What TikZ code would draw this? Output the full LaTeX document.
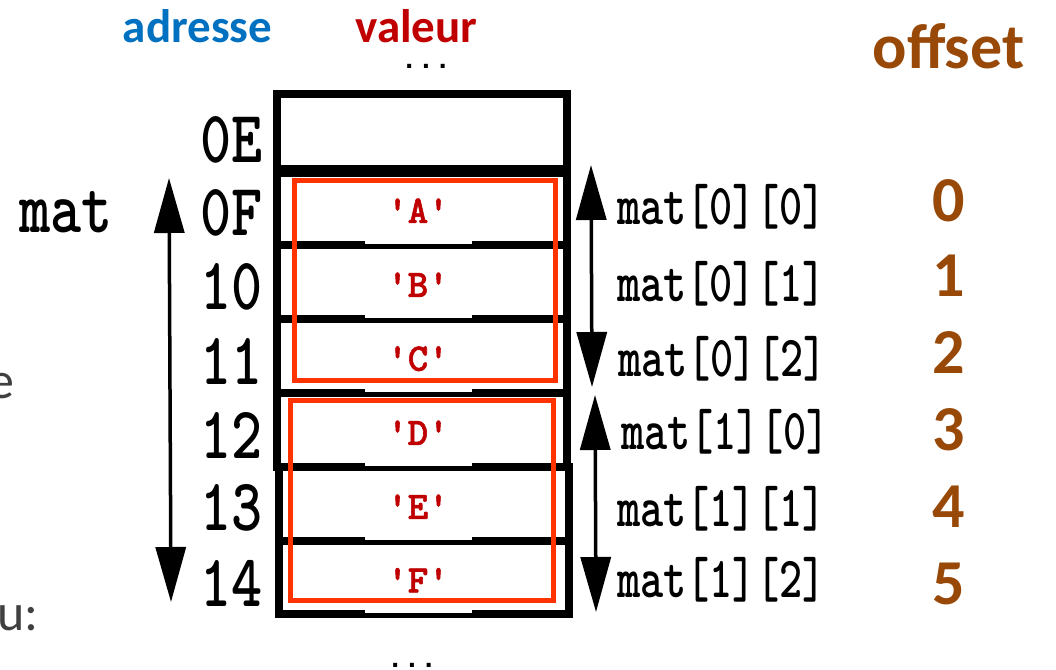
\documentclass[tikz,border=0pt]{standalone}
\usepackage{fontspec}
\usepackage{tikz}
\usetikzlibrary{arrows.meta}

\setmainfont{Carlito}
\newfontfamily\addrfont{lmmonolt10-bold}[Extension=.otf, FakeStretch=0.8, Ligatures=TeXOff]
\newfontfamily\matfont{lmmonolt10-bold}[Extension=.otf, FakeStretch=0.76, Ligatures=TeXOff]
\newfontfamily\valfont{lmmonolt10-bold}[Extension=.otf, FakeBold=1.5, Ligatures=TeXOff]
\newfontfamily\dotfont{Liberation Mono}

\definecolor{adrblue}{HTML}{0070C0}
\definecolor{valred}{HTML}{C00000}
\definecolor{boxred}{HTML}{FF3300}
\definecolor{offbrown}{HTML}{984807}

\begin{document}
\begin{tikzpicture}[x=1pt, y=-1pt,
	cell/.style={draw, line width=8pt, minimum width=289.5pt, inner sep=0pt, outer sep=0pt},
	val/.style={fill=white, text=valred, minimum width=107pt, minimum height=66pt, inner sep=0pt, anchor=south, font=\valfont\fontsize{39}{39}\selectfont},
	redbox/.style={draw=boxred, line width=5pt, inner sep=0pt},
	addr/.style={anchor=east, inner sep=0pt, font=\addrfont\fontsize{74}{74}\selectfont},
	elem/.style={anchor=west, inner sep=0pt, font=\matfont\fontsize{58}{58}\selectfont},
	off/.style={inner sep=0pt, text=offbrown, font=\bfseries\fontsize{64}{64}\selectfont},
	head/.style={anchor=base, inner sep=0pt, font=\bfseries\fontsize{47}{47}\selectfont},
	frag/.style={anchor=east, inner sep=0pt, text=black!75, font=\fontsize{52}{52}\selectfont},
	dots/.style={inner sep=0pt, font=\dotfont\bfseries\fontsize{28}{28}\selectfont},
	dblarrow/.style={line width=3.5pt, {Triangle[length=55pt,width=30pt]}-{Triangle[length=55pt,width=30pt]}}]
		\clip (0,0) rectangle (1056,669);
		\node[cell, minimum height=75pt] (c0E) at (421.75,131.5) {};
		\node[cell, minimum height=72pt] (c0F) at (421.75,209) {};
		\node[cell, minimum height=74pt] (c10) at (421.75,282) {};
		\node[cell, minimum height=74pt] (c11) at (421.75,356) {};
		\node[cell, minimum height=74pt] (c12) at (421.75,430) {};
		\node[cell, minimum height=74pt] (c13) at (424,504) {};
		\node[cell, minimum height=73pt] (c14) at (424,577.5) {};
		\node[val] (vA) at (418,244) {'A'};
		\node[val] (vB) at (418,318) {'B'};
		\node[val] (vC) at (418,392) {'C'};
		\node[val] (vD) at (418,466) {'D'};
		\node[val] (vE) at (418,540) {'E'};
		\node[val] (vF) at (418,613.5) {'F'};
		\node[redbox, minimum width=261pt, minimum height=199.5pt] (row0) at (425,280.25) {};
		\node[redbox, minimum width=263pt, minimum height=200pt] (row1) at (422,500.5) {};
		\node[addr] (a0E) at (263,140) {0E};
		\node[addr] (a0F) at (263,213) {0F};
		\node[addr] (a10) at (263,287) {10};
		\node[addr] (a11) at (263,361) {11};
		\node[addr] (a12) at (263,435) {12};
		\node[addr] (a13) at (263,508) {13};
		\node[addr] (a14) at (263,583) {14};
		\node[addr, anchor=base] (mat) at (66,232) {mat};
		\node[elem] (m00) at (617,206.5) {mat[0][0]};
		\node[elem] (m01) at (617,284) {mat[0][1]};
		\node[elem] (m02) at (618,358.5) {mat[0][2]};
		\node[elem] (m10) at (621,431.5) {mat[1][0]};
		\node[elem] (m11) at (617,509) {mat[1][1]};
		\node[elem] (m12) at (617,580) {mat[1][2]};
		\node[off] (o0) at (949,201) {0};
		\node[off] (o1) at (949,276) {1};
		\node[off] (o2) at (949,353) {2};
		\node[off] (o3) at (949,430) {3};
		\node[off] (o4) at (949,507) {4};
		\node[off] (o5) at (949,584) {5};
		\node[head, text=adrblue] (hadr) at (197.5,42) {adresse};
		\node[head, text=valred] (hval) at (416.5,42) {valeur};
		\node[head, text=offbrown, font=\bfseries\fontsize{64}{64}\selectfont] (hoff) at (948.5,68) {offset};
		\node[dots] (dtop) at (426,66) {...};
		\node[dots] (dbot) at (412,665) {...};
		\node[frag] (f1) at (15,386) {e};
		\node[frag] (f2) at (39,618) {u:};
		\coordinate (lt) at (169,178);
		\coordinate (lb) at (171,602);
		\coordinate (r0t) at (591,165);
		\coordinate (r0b) at (592,387);
		\coordinate (r1t) at (595,395);
		\coordinate (r1b) at (596,612);
		\draw[dblarrow] (lt) -- (lb);
		\draw[dblarrow] (r0t) -- (r0b);
		\draw[dblarrow] (r1t) -- (r1b);
\end{tikzpicture}
\end{document}
